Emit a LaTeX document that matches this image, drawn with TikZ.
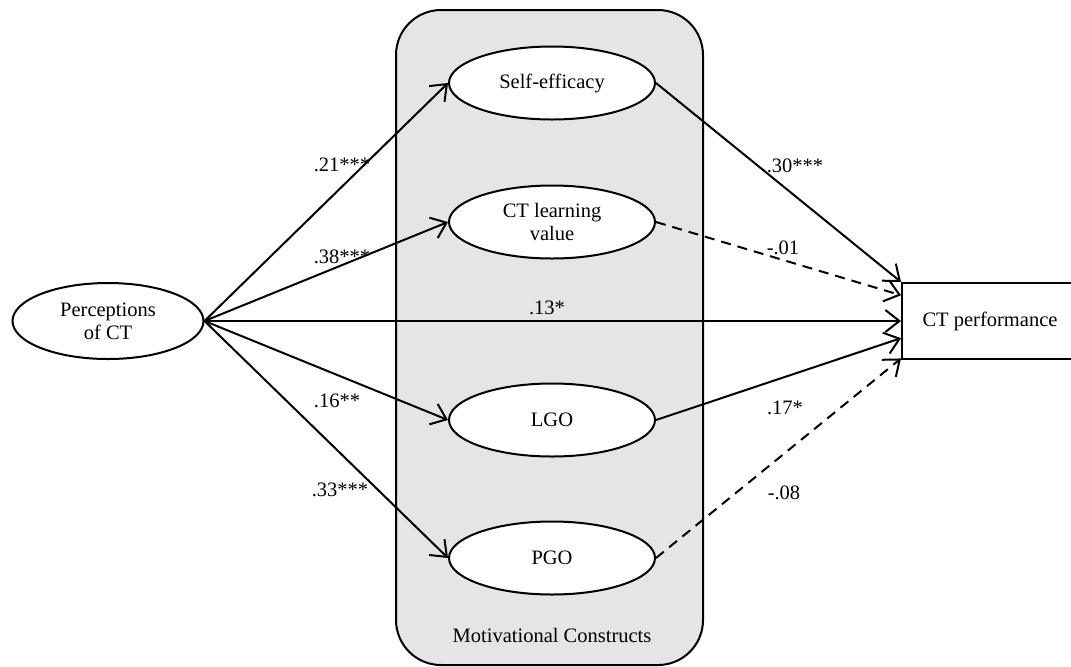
\documentclass[tikz,border=0pt]{standalone}
\usepackage{fontspec}
\setmainfont{Liberation Serif}
\usetikzlibrary{shapes.geometric,arrows.meta,calc}
\definecolor{boxgray}{RGB}{230,228,230}
\begin{document}
\begin{tikzpicture}[x=0.5pt,y=-0.5pt,
  font=\fontsize{10.25}{11.5}\selectfont,
  lw/.style={line width=1pt},
  latent/.style={ellipse, draw, lw, fill=white, inner sep=0pt, minimum width=103pt, minimum height=36.5pt, align=center},
  arr/.style={lw, -{Straight Barb[length=7pt,width=11pt]}},
  darr/.style={arr, dash pattern=on 5pt off 3.5pt},
  coef/.style={inner sep=1pt}
]
\useasboundingbox (0,0) rectangle (1071,666);
\clip (0,0) rectangle (1071,666);

% group box
\draw[lw, fill=boxgray, rounded corners=22.5pt] (396,10) rectangle (703,665);
\node (grp) at (552,635) {Motivational Constructs};

% nodes
\node[ellipse, draw, lw, fill=white, inner sep=0pt, minimum width=95.5pt, minimum height=38pt, align=center] (perc) at (108,321) {Perceptions\\of CT};
\node[latent] (se) at (552,83) {Self-efficacy};
\node[latent] (lv) at (552,222) {CT learning\\value};
\node[latent] (lgo) at (552,420) {LGO};
\node[latent] (pgo) at (552,558) {PGO};
\node[draw, lw, fill=white, minimum width=88pt, minimum height=38pt, inner sep=0pt] (perf) at (990,321) {CT performance};

\coordinate (in1) at (perf.north west);
\coordinate (in2) at ($(perf.north west)!0.17!(perf.south west)$);
\coordinate (in3) at (perf.west);
\coordinate (in4) at ($(perf.north west)!0.72!(perf.south west)$);
\coordinate (in5) at ($(perf.north west)!0.98!(perf.south west)$);

% paths from perceptions
\draw[arr] (perc.east) -- (se.west);
\draw[arr] (perc.east) -- (lv.west);
\draw[arr] (perc.east) -- (in3);
\draw[arr] (perc.east) -- (lgo.west);
\draw[arr] (perc.east) -- (pgo.west);

% paths to performance
\draw[arr] (se.east) -- (in1);
\draw[darr] (lv.east) -- (in2);
\draw[arr] (lgo.east) -- (in4);
\draw[darr] (pgo.east) -- (in5);

% coefficients
\node[coef] (c1) at (342,165) {.21***};
\node[coef] (c2) at (342,257) {.38***};
\node[coef] (c3) at (547,308) {.13*};
\node[coef] (c4) at (337,401) {.16**};
\node[coef] (c5) at (340,490) {.33***};
\node[coef] (c6) at (795,166) {.30***};
\node[coef] (c7) at (783,248) {-.01};
\node[coef] (c8) at (785,408) {.17*};
\node[coef] (c9) at (784,493) {-.08};
\end{tikzpicture}
\end{document}
